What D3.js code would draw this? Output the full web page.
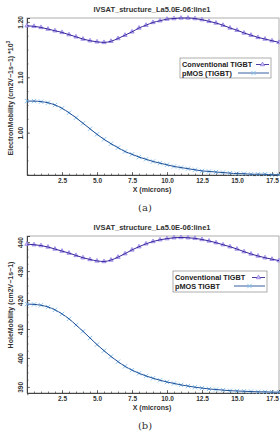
<!DOCTYPE html>
<html><head><meta charset="utf-8">
<script src="https://cdn.jsdelivr.net/npm/d3@7/dist/d3.min.js"></script>
<style>body{margin:0;background:#fff}svg{display:block}</style>
</head><body>
<script>
const xs = d3.range(0, 18.01, 0.5);
const xTicks = [2.5, 5.0, 7.5, 10.0, 12.5, 15.0, 17.5];
const title = "IVSAT_structure_La5.0E-06:line1";
const convA = [1.193,1.192,1.190,1.187,1.184,1.181,1.177,1.173,1.169,1.166,1.164,1.163,1.165,1.170,1.176,1.182,1.189,1.194,1.199,1.202,1.205,1.206,1.207,1.207,1.206,1.204,1.201,1.198,1.194,1.189,1.185,1.180,1.176,1.172,1.169,1.166,1.163];
const pmosA = [1.057,1.057,1.056,1.054,1.050,1.044,1.036,1.027,1.017,1.007,0.997,0.988,0.980,0.973,0.966,0.961,0.956,0.952,0.948,0.945,0.942,0.939,0.937,0.935,0.933,0.931,0.930,0.929,0.928,0.927,0.926,0.926,0.925,0.925,0.925,0.924,0.924];
const yTicksA = [1.00, 1.10, 1.20];
const convB = [439.3,439.1,438.8,438.3,437.6,436.9,436.2,435.4,434.6,434.0,433.5,433.3,433.8,434.8,436.0,437.3,438.4,439.4,440.2,440.8,441.2,441.5,441.6,441.5,441.3,440.9,440.4,439.8,439.1,438.4,437.6,436.7,435.9,435.2,434.6,434.1,433.6];
const pmosB = [418.6,418.5,418.2,417.6,416.6,415.2,413.5,411.4,409.2,406.9,404.6,402.5,400.5,398.7,397.1,395.8,394.7,393.8,393.0,392.3,391.7,391.2,390.7,390.3,389.9,389.6,389.3,389.1,388.9,388.7,388.6,388.5,388.4,388.3,388.3,388.2,388.2];
const yTicksB = [390, 400, 410, 420, 430, 440];

const svg = d3.select("body").append("svg").attr("width",280).attr("height",437);
const FONT = "'Liberation Sans', Arial, sans-serif";
const convLine = "#35289a", convMark = "#8b73e3", pmosLine = "#1f4f95", pmosMark = "#82bdec";

function triangle(g, x, y){
  g.append("path").attr("d", d3.symbol(d3.symbolTriangle, 8)()).attr("transform",`translate(${x},${y})`)
    .attr("fill","#cfc3f5").attr("stroke",convMark).attr("stroke-width",0.7);
}
function cross(g, x, y){
  g.append("path").attr("d", d3.symbol(d3.symbolX, 14)()).attr("transform",`translate(${x},${y})`)
    .attr("fill","none").attr("stroke",pmosMark).attr("stroke-width",0.9);
}

function panel(cfg){
  const x = d3.scaleLinear().domain([0,18]).range([27,279]);
  const y = d3.scaleLinear().domain(cfg.yDom).range([cfg.bottom, cfg.top]);
  const g = svg.append("g");
  g.append("text").attr("x",152).attr("y",cfg.titleY).attr("text-anchor","middle")
    .attr("font-family",FONT).attr("font-weight","bold").attr("font-size",7.5).attr("fill","#333").text(title);
  g.append("rect").attr("x",x(0)).attr("y",cfg.top).attr("width",x(18)-x(0)).attr("height",cfg.bottom-cfg.top)
    .attr("fill","none").attr("stroke","#999").attr("stroke-width",0.8);
  const xAx = g.append("g").attr("transform",`translate(0,${cfg.bottom})`)
    .call(d3.axisBottom(x).tickValues(xTicks).tickFormat(d3.format(".1f")).tickSize(-3));
  xAx.append("g").call(d3.axisBottom(x).tickValues(d3.range(0.5,18,0.5)).tickFormat("").tickSize(-1.5));
  const yAx = g.append("g").attr("transform",`translate(${x(0)},0)`)
    .call(d3.axisLeft(y).tickValues(cfg.yTicks).tickFormat(cfg.fmt).tickSize(-3));
  yAx.append("g").call(d3.axisLeft(y).tickValues(cfg.minor).tickFormat("").tickSize(-1.5));
  [xAx, yAx].forEach(a=>{
    a.selectAll(".domain").attr("stroke","#444").attr("stroke-width",1);
    a.selectAll("line").attr("stroke","#444").attr("stroke-width",0.7);
    a.selectAll("text").attr("font-family",FONT).attr("font-weight","bold").attr("font-size",6.5).attr("fill","#333");
  });
  xAx.selectAll(".tick text").attr("y",3.5).attr("dy","0.71em");
  yAx.selectAll(".tick text").attr("transform","rotate(-90)").attr("x",0).attr("y",-4.5).attr("dy",0).attr("text-anchor","middle");
  g.append("text").attr("x",152).attr("y",cfg.bottom+17).attr("text-anchor","middle")
    .attr("font-family",FONT).attr("font-weight","bold").attr("font-size",7).attr("fill","#333").text("X (microns)");
  const yl = g.append("text").attr("transform",`translate(13,${cfg.yLabelY}) rotate(-90)`).attr("text-anchor","middle")
    .attr("font-family",FONT).attr("font-weight","bold").attr("font-size",7).attr("fill","#333");
  yl.append("tspan").text(cfg.yLabel);
  if(cfg.sup){ yl.append("tspan").attr("font-size",5).attr("dy",-3).text(cfg.sup); }
  const line = d3.line().x((d,i)=>x(xs[i])).y(d=>y(d)).curve(d3.curveMonotoneX);
  const pts = g.append("g");
  cfg.pmos.forEach((v,i)=>cross(pts, x(xs[i]), y(v)));
  g.append("path").datum(cfg.pmos).attr("d",line).attr("fill","none").attr("stroke",pmosLine).attr("stroke-width",1);
  cfg.conv.forEach((v,i)=>triangle(pts, x(xs[i]), y(v)));
  g.append("path").datum(cfg.conv).attr("d",line).attr("fill","none").attr("stroke",convLine).attr("stroke-width",1);
  const L = cfg.legend;
  const lg = g.append("g");
  lg.append("rect").attr("x",L.x).attr("y",L.y).attr("width",L.w).attr("height",L.h)
    .attr("fill","#fff").attr("stroke","#999").attr("stroke-width",0.8);
  cfg.names.forEach((n,i)=>{
    const ty = L.y + 6.5 + i*8.5;
    lg.append("text").attr("x",L.x+2).attr("y",ty+2.5).attr("font-family",FONT).attr("font-weight","bold")
      .attr("font-size",7.3).attr("fill","#222").text(n);
    const x2 = L.x+L.w-2;
    const x0 = i===0 ? L.x+L.w-15 : L.x+L.w-33;
    lg.append("line").attr("x1",x0).attr("x2",x2).attr("y1",ty).attr("y2",ty)
      .attr("stroke", i===0?convLine:pmosLine).attr("stroke-width",0.9);
    if(i===0) triangle(lg,(x0+x2)/2,ty); else cross(lg,(x0+x2)/2,ty);
  });
  g.append("text").attr("x",145).attr("y",cfg.capY).attr("text-anchor","middle")
    .attr("font-family","'DejaVu Serif', 'Liberation Serif', serif").attr("font-size",10).attr("fill","#333").text(cfg.cap);
}

panel({yDom:[0.9236,1.207], top:18, bottom:175, titleY:12, yTicks:yTicksA, minor:d3.range(0.925,1.21,0.025), fmt:d3.format(".2f"),
  conv:convA, pmos:pmosA, yLabel:"ElectronMobility (cm2V\u22121s\u22121) *10", sup:"3", yLabelY:98,
  legend:{x:180,y:58,w:91,h:20}, names:["Conventional TIGBT","pMOS (TIGBT)"], cap:"(a)", capY:211});
panel({yDom:[387.9,442.1], top:236, bottom:393, titleY:230, yTicks:yTicksB, minor:d3.range(387.5,442,2.5), fmt:d3.format("d"),
  conv:convB, pmos:pmosB, yLabel:"HoleMobility (cm2V\u22121s\u22121)", sup:null, yLabelY:305,
  legend:{x:173,y:271,w:94,h:21}, names:["Conventional TIGBT","pMOS TIGBT"], cap:"(b)", capY:429});
</script>
</body></html>
